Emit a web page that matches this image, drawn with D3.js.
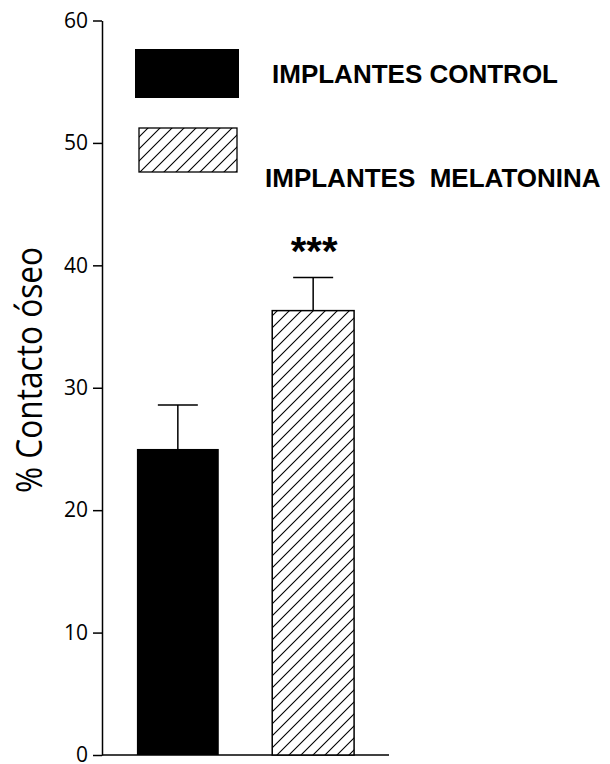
<!DOCTYPE html>
<head>
  <script src="https://d3js.org/d3.v7.min.js"></script>
  <style>
    body { margin: 0; background: #fff; }
  </style>
</head>
<body>
  <svg width="610" height="764"></svg>
  <script>
    // data
    const groups = ["IMPLANTES CONTROL", "IMPLANTES  MELATONINA"];
    const means = [25.0, 36.3];
    const sems = [3.6, 2.7];
    const fills = ["solid", "hatch"];
    const yTicks = [0, 10, 20, 30, 40, 50, 60];
    const marks = ["", "***"];
    const yLabel = "% Contacto óseo";

    const svg = d3.select("svg");

    const defs = svg.append("defs");
    const pat = defs.append("pattern")
      .attr("id", "hatch")
      .attr("patternUnits", "userSpaceOnUse")
      .attr("width", 12)
      .attr("height", 12);
    pat.append("rect").attr("width", 12).attr("height", 12).attr("fill", "#fff");
    pat.append("path")
      .attr("d", "M0,12 L12,0 M-3,3 L3,-3 M9,15 L15,9")
      .attr("stroke", "#000")
      .attr("stroke-width", 1.1);

    const fillOf = f => f === "solid" ? "#000" : "url(#hatch)";

    const y = d3.scaleLinear().domain([0, 60]).range([755, 20.5]);
    const x = d3.scaleBand()
      .domain(groups)
      .range([102, 389])
      .paddingInner(0.395)
      .paddingOuter(0.258);

    // y axis
    const yAxis = d3.axisLeft(y)
      .tickValues(yTicks)
      .tickSize(9)
      .tickSizeOuter(0)
      .tickPadding(5);
    const gy = svg.append("g")
      .attr("transform", "translate(102,0)")
      .call(yAxis);
    gy.select(".domain").attr("stroke-width", 1.5);
    gy.selectAll(".tick line").attr("stroke-width", 1.5);
    gy.selectAll(".tick text")
      .style("font-family", "'Open Sans', 'Noto Sans', sans-serif")
      .style("font-size", "21px")
      .attr("fill", "#000");

    // x axis line
    svg.append("line")
      .attr("x1", 102).attr("x2", 389)
      .attr("y1", y(0)).attr("y2", y(0))
      .attr("stroke", "#000")
      .attr("stroke-width", 1.5);

    // bars
    const bars = groups.map((g, i) => ({ g: g, v: means[i], e: sems[i], f: fills[i], m: marks[i] }));

    svg.selectAll(".err")
      .data(bars)
      .enter()
      .append("path")
      .attr("class", "err")
      .attr("d", d => {
        const cx = x(d.g) + x.bandwidth() / 2;
        return "M" + cx + "," + y(d.v) + " V" + y(d.v + d.e) +
          " M" + (cx - 20) + "," + y(d.v + d.e) + " H" + (cx + 20);
      })
      .attr("stroke", "#000")
      .attr("stroke-width", 1.5)
      .attr("fill", "none");

    svg.selectAll(".bar")
      .data(bars)
      .enter()
      .append("rect")
      .attr("class", "bar")
      .attr("x", d => x(d.g))
      .attr("y", d => y(d.v))
      .attr("width", x.bandwidth())
      .attr("height", d => y(0) - y(d.v))
      .attr("fill", d => fillOf(d.f))
      .attr("stroke", "#000")
      .attr("stroke-width", d => d.f === "solid" ? 0 : 1.5);

    svg.selectAll(".mark")
      .data(bars)
      .enter()
      .append("text")
      .attr("class", "mark")
      .attr("x", d => x(d.g) + x.bandwidth() / 2 + 1)
      .attr("y", 265)
      .attr("text-anchor", "middle")
      .attr("font-family", "'Liberation Sans', Arial, sans-serif")
      .attr("font-weight", "bold")
      .attr("font-size", 40)
      .text(d => d.m);

    // legend
    const legBoxes = [
      { x: 135, y: 49, w: 104, h: 49, tx: 272, ty: 83 },
      { x: 139, y: 128, w: 98, h: 44, tx: 265, ty: 187 }
    ];
    const leg = svg.selectAll(".leg")
      .data(bars)
      .enter()
      .append("g")
      .attr("class", "leg");
    leg.append("rect")
      .attr("x", (d, i) => legBoxes[i].x)
      .attr("y", (d, i) => legBoxes[i].y)
      .attr("width", (d, i) => legBoxes[i].w)
      .attr("height", (d, i) => legBoxes[i].h)
      .attr("fill", d => fillOf(d.f))
      .attr("stroke", "#000")
      .attr("stroke-width", d => d.f === "solid" ? 0 : 1.3);
    leg.append("text")
      .attr("x", (d, i) => legBoxes[i].tx)
      .attr("y", (d, i) => legBoxes[i].ty)
      .attr("font-family", "'Liberation Sans', Arial, sans-serif")
      .attr("font-weight", "bold")
      .attr("font-size", 26)
      .style("white-space", "pre")
      .text(d => d.g);

    // y label
    svg.append("text")
      .attr("transform", "translate(42,370) rotate(-90)")
      .attr("text-anchor", "middle")
      .attr("font-family", "'Open Sans', 'Noto Sans', sans-serif")
      .attr("font-size", 37)
      .attr("textLength", 246)
      .attr("lengthAdjust", "spacingAndGlyphs")
      .text(yLabel);
  </script>
</body>
